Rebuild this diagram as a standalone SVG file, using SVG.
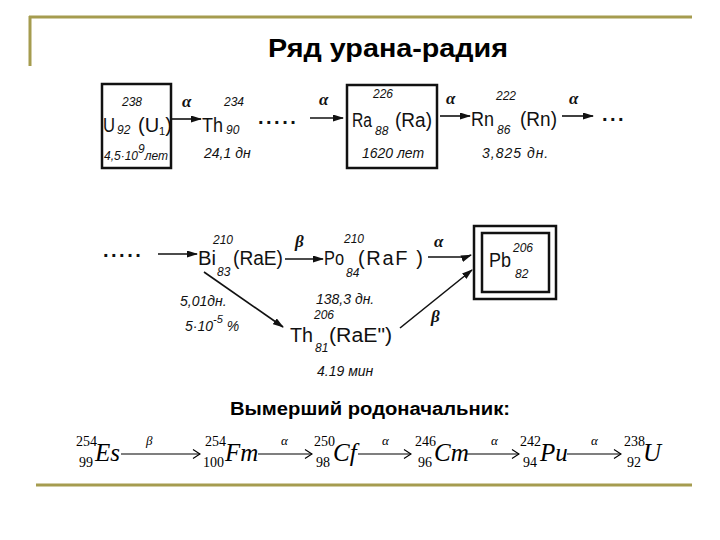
<svg xmlns="http://www.w3.org/2000/svg" width="720" height="540" viewBox="0 0 720 540">
<defs>
<marker id="ah" markerUnits="userSpaceOnUse" markerWidth="11" markerHeight="7" refX="10" refY="3.5" orient="auto"><path d="M0,0 L11,3.5 L0,7 z" fill="#111"/></marker>
<marker id="oh" markerUnits="userSpaceOnUse" markerWidth="9" markerHeight="10" refX="8" refY="5" orient="auto"><path d="M1,0.5 L8,5 L1,9.5" fill="none" stroke="#000" stroke-width="1.2"/></marker>
</defs>
<style>
.el{font-family:"Liberation Sans",Arial,sans-serif;font-size:20px;fill:#111}
.n{font-family:"Liberation Sans",Arial,sans-serif;font-style:italic;font-size:12px;fill:#111}
.hl{font-family:"Liberation Sans",Arial,sans-serif;font-style:italic;font-size:14px;fill:#111}
.gr{font-family:"Liberation Serif","Times New Roman",serif;font-style:italic;font-weight:bold;font-size:17px;fill:#111}
.dots{font-family:"Liberation Sans",Arial,sans-serif;font-weight:bold;font-size:20px;letter-spacing:2.5px;fill:#111}
.box{fill:none;stroke:#111;stroke-width:2.5}
.ar{stroke:#111;stroke-width:1.6;fill:none;marker-end:url(#ah)}
.gold{stroke:#a59c4f;stroke-width:3;fill:none}
.ttl{font-family:"Liberation Sans",Arial,sans-serif;font-weight:bold;fill:#000}
.eq{font-family:"Liberation Serif","Times New Roman",serif;font-style:italic;font-size:25px;fill:#000}
.eqn{font-family:"Liberation Serif","Times New Roman",serif;font-size:14px;fill:#000}
.eqg{font-family:"Liberation Serif","Times New Roman",serif;font-style:italic;font-size:13px;fill:#000}
.eqa{stroke:#000;stroke-width:1.2;fill:none;marker-end:url(#oh)}
</style>
<rect width="720" height="540" fill="#fff"/>
<g id="frame">
<path class="gold" d="M29,17 H692 M30,16 V66 M36,485 H692"/>
</g>
<text id="title" class="ttl" x="268" y="57" font-size="26" textLength="240" lengthAdjust="spacingAndGlyphs">Ряд урана-радия</text>

<g id="connectors">
<line class="ar" x1="172" y1="119" x2="201" y2="119"/>
<line class="ar" x1="310" y1="118" x2="343" y2="118"/>
<line class="ar" x1="440" y1="116" x2="470" y2="116"/>
<line class="ar" x1="562" y1="116" x2="593" y2="116"/>
<line class="ar" x1="158" y1="254" x2="197" y2="254"/>
<line class="ar" x1="285" y1="259" x2="323" y2="259"/>
<path class="ar" d="M428,257 H466 L471,255"/>
<line class="ar" x1="204" y1="272" x2="283" y2="327"/>
<line class="ar" x1="400" y1="328" x2="472" y2="270"/>
<text class="gr" x="182" y="107">α</text>
<text class="gr" x="319" y="105">α</text>
<text class="gr" x="446" y="104">α</text>
<text class="gr" x="569" y="104">α</text>
<text class="gr" x="295" y="247">β</text>
<text class="gr" x="434" y="247">α</text>
<text class="gr" x="431" y="322">β</text>
</g>

<g id="U238">
<rect class="box" x="102" y="84" width="69" height="84"/>
<text class="el" x="103" y="132" textLength="12" lengthAdjust="spacingAndGlyphs">U</text>
<text class="n" x="122" y="106">238</text>
<text class="n" x="117" y="134">92</text>
<text class="el" x="138" y="132" font-size="18">(U<tspan font-size="11" dy="3">1</tspan><tspan dy="-3">)</tspan></text>
<text class="n" x="104" y="160" font-size="13">4,5·10<tspan dy="-7">9</tspan><tspan dy="7">лет</tspan></text>
</g>

<g id="Th234">
<text class="el" x="202" y="132" textLength="21" lengthAdjust="spacingAndGlyphs">Th</text>
<text class="n" x="224" y="106">234</text>
<text class="n" x="226" y="134">90</text>
<text class="hl" x="204" y="158">24,1 дн</text>
</g>

<g id="dots1"><text class="dots" x="258" y="124">.....</text></g>

<g id="Ra226">
<rect class="box" x="347" y="85" width="90" height="83"/>
<text class="el" x="352" y="127" textLength="20" lengthAdjust="spacingAndGlyphs">Ra</text>
<text class="n" x="373" y="98">226</text>
<text class="n" x="375" y="135">88</text>
<text class="el" x="395" y="127" textLength="37" lengthAdjust="spacingAndGlyphs">(Ra)</text>
<text class="hl" x="393" y="158" text-anchor="middle">1620 лет</text>
</g>

<g id="Rn222">
<text class="el" x="471" y="126" textLength="23" lengthAdjust="spacingAndGlyphs">Rn</text>
<text class="n" x="496" y="100">222</text>
<text class="n" x="497" y="134">86</text>
<text class="el" x="520" y="126" textLength="37" lengthAdjust="spacingAndGlyphs">(Rn)</text>
<text class="hl" x="482" y="158" letter-spacing="1">3,825 дн.</text>
</g>

<g id="dots2"><text class="dots" x="602" y="121">...</text></g>

<g id="dots3"><text class="dots" x="103" y="257">.....</text></g>

<g id="Bi210">
<text class="el" x="198" y="265" textLength="18" lengthAdjust="spacingAndGlyphs">Bi</text>
<text class="n" x="213" y="244">210</text>
<text class="n" x="217" y="276">83</text>
<text class="el" x="233" y="265" textLength="50" lengthAdjust="spacingAndGlyphs">(RaE)</text>
</g>

<g id="Po210">
<text class="el" x="324" y="265" textLength="20" lengthAdjust="spacingAndGlyphs">Po</text>
<text class="n" x="344" y="243">210</text>
<text class="n" x="346" y="277">84</text>
<text class="el" x="358" y="265" textLength="65" lengthAdjust="spacing">(RaF )</text>
<text class="hl" x="316" y="304">138,3 дн.</text>
</g>

<g id="Pb206">
<rect class="box" x="474" y="226" width="82" height="73"/>
<rect class="box" x="482" y="233" width="67" height="59"/>
<text class="el" x="489" y="267" textLength="22" lengthAdjust="spacingAndGlyphs">Pb</text>
<text class="n" x="513" y="252">206</text>
<text class="n" x="515" y="278">82</text>
</g>

<g id="branch">
<text class="hl" x="180" y="306" font-size="13">5,01дн.</text>
<text class="hl" x="185" y="331">5·10<tspan font-size="11" dy="-8">-5</tspan><tspan dy="8"> %</tspan></text>
</g>

<g id="Tl206">
<text class="el" x="290" y="342" textLength="23" lengthAdjust="spacingAndGlyphs">Th</text>
<text class="n" x="314" y="319">206</text>
<text class="n" x="315" y="352">81</text>
<text class="el" x="329" y="342" textLength="63" lengthAdjust="spacingAndGlyphs">(RaE")</text>
<text class="hl" x="317" y="376">4.19 мин</text>
</g>

<text id="subtitle" class="ttl" x="230" y="415" font-size="18" textLength="280" lengthAdjust="spacingAndGlyphs">Вымерший родоначальник:</text>

<g id="chain">
<text class="eqn" x="76" y="446">254</text><text class="eqn" x="79" y="467">99</text><text class="eq" x="95" y="461">Es</text>
<line class="eqa" x1="121" y1="454" x2="200" y2="454"/><text class="eqg" x="146" y="445">β</text>
<text class="eqn" x="205" y="446">254</text><text class="eqn" x="203" y="467">100</text><text class="eq" x="225" y="461">Fm</text>
<line class="eqa" x1="258" y1="454" x2="312" y2="454"/><text class="eqg" x="281" y="445">α</text>
<text class="eqn" x="314" y="446">250</text><text class="eqn" x="316" y="467">98</text><text class="eq" x="333" y="461">Cf</text>
<line class="eqa" x1="358" y1="454" x2="411" y2="454"/><text class="eqg" x="382" y="445">α</text>
<text class="eqn" x="415" y="446">246</text><text class="eqn" x="418" y="467">96</text><text class="eq" x="434" y="461">Cm</text>
<line class="eqa" x1="467" y1="454" x2="519" y2="454"/><text class="eqg" x="491" y="445">α</text>
<text class="eqn" x="520" y="446">242</text><text class="eqn" x="523" y="467">94</text><text class="eq" x="540" y="461">Pu</text>
<line class="eqa" x1="567" y1="454" x2="621" y2="454"/><text class="eqg" x="591" y="445">α</text>
<text class="eqn" x="624" y="446">238</text><text class="eqn" x="627" y="467">92</text><text class="eq" x="643" y="461">U</text>
</g>
</svg>
